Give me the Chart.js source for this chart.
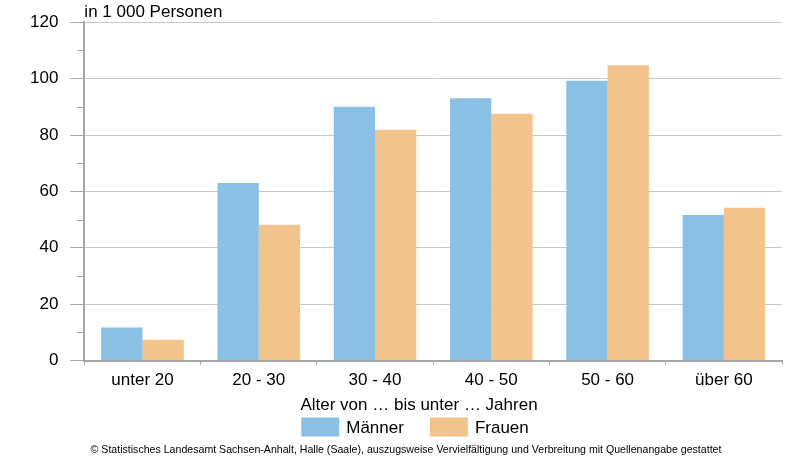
<!DOCTYPE html>
<html>
<head>
<meta charset="utf-8">
<script src="https://cdn.jsdelivr.net/npm/chart.js@4"></script>
<style>
  html, body { margin: 0; padding: 0; background: #fff; }
  #wrap { width: 800px; height: 461px; position: relative; }
</style>
</head>
<body>
<div id="wrap"><canvas id="chartAlter"></canvas></div>
<script>
var kategorien = ["unter 20", "20 - 30", "30 - 40", "40 - 50", "50 - 60", "über 60"];
var maenner = [11.7, 63.0, 90.0, 93.0, 99.2, 51.6];
var frauen = [7.4, 48.2, 81.9, 87.5, 104.7, 54.2];
var einheit = "in 1 000 Personen";
var achsenTitel = "Alter von … bis unter … Jahren";
var quelle = "© Statistisches Landesamt Sachsen-Anhalt, Halle (Saale), auszugsweise Vervielfältigung und Verbreitung mit Quellenangabe gestattet";

var schrift = "'Liberation Sans', Arial, sans-serif";

// Zwischenstriche, Einheit, Achsentitel und Legende selbst zeichnen
var extras = {
  id: "extras",
  afterDraw: function (chart) {
    var ctx = chart.ctx;
    var y = chart.scales.y;
    var left = chart.chartArea.left;
    ctx.save();
    ctx.strokeStyle = "#a6a6a6";
    ctx.lineWidth = 1;
    for (var v = 10; v < 120; v += 20) {
      var py = Math.round(y.getPixelForValue(v)) + 0.5;
      ctx.beginPath();
      ctx.moveTo(left - 7, py);
      ctx.lineTo(left, py);
      ctx.stroke();
    }
    ctx.fillStyle = "#000";
    ctx.font = "17px " + schrift;
    ctx.textBaseline = "middle";
    ctx.textAlign = "left";
    ctx.fillText(einheit, left, 12);

    // Achsentitel
    ctx.textAlign = "center";
    ctx.fillText(achsenTitel, 419, 405);

    // Legende
    var ds = chart.data.datasets;
    var boxW = 38, boxH = 19, gap = 7, itemGap = 26;
    var breite = 0;
    for (var i = 0; i < ds.length; i++) {
      breite += boxW + gap + ctx.measureText(ds[i].label).width;
      if (i > 0) breite += itemGap;
    }
    var x = 415 - breite / 2;
    var cy = 427;
    ctx.textAlign = "left";
    for (var j = 0; j < ds.length; j++) {
      ctx.fillStyle = ds[j].backgroundColor;
      ctx.fillRect(x, cy - boxH / 2, boxW, boxH);
      x += boxW + gap;
      ctx.fillStyle = "#000";
      ctx.fillText(ds[j].label, x, cy + 1);
      x += ctx.measureText(ds[j].label).width + itemGap;
    }

    // Quelle
    ctx.font = "10.6px " + schrift;
    ctx.textAlign = "center";
    ctx.fillText(quelle, 406, 450);
    ctx.restore();
  }
};

const configAlter = {
  type: "bar",
  data: {
    labels: kategorien,
    datasets: [
      {
        label: "Männer",
        data: maenner,
        backgroundColor: "#89c0e3",
        borderWidth: 0,
      },
      {
        label: "Frauen",
        data: frauen,
        backgroundColor: "#f2c38b",
        borderWidth: 0,
      },
    ],
  },
  options: {
    responsive: true,
    maintainAspectRatio: false,
    animation: false,
    layout: { padding: { top: 9, right: 18, left: 18, bottom: 64 } },
    datasets: { bar: { categoryPercentage: 0.71, barPercentage: 1.0 } },
    scales: {
      x: {
        grid: { display: true, drawOnChartArea: false, offset: true, tickLength: 4, color: "#a6a6a6" },
        border: { color: "#a6a6a6", width: 2 },
        ticks: { color: "#000", font: { size: 17, family: schrift }, padding: 6 },
      },
      y: {
        min: 0,
        max: 120,
        ticks: { stepSize: 20, color: "#000", font: { size: 17, family: schrift }, padding: 12 },
        grid: { color: "#c8c8c8", tickColor: "#a6a6a6", tickLength: 14 },
        border: { color: "#a6a6a6", width: 2 },
      },
    },
    plugins: {
      legend: { display: false },
      tooltip: { enabled: false },
    },
  },
  plugins: [extras],
};

var myChartAlter = new Chart(document.getElementById("chartAlter"), configAlter);
</script>
</body>
</html>
